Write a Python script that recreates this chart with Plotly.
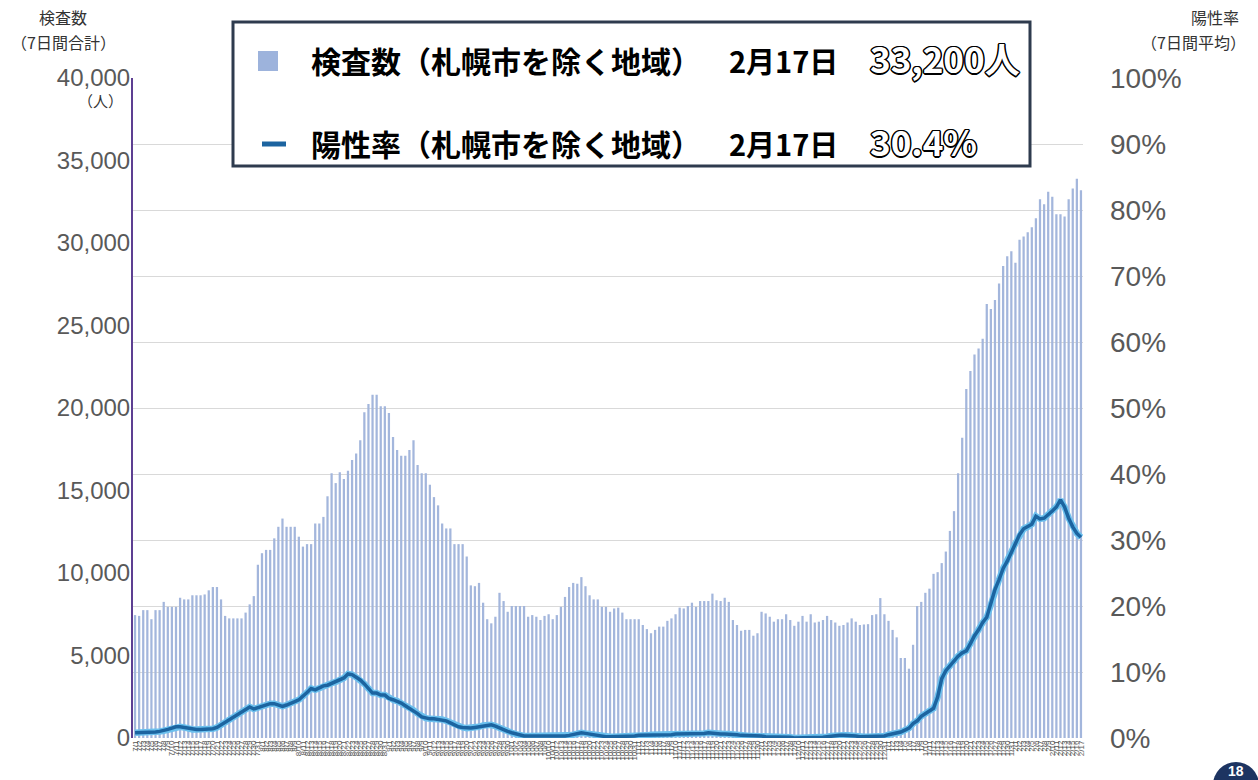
import pandas as pd
import plotly.graph_objects as go

# ---------------- data ----------------
dates = pd.date_range("2021-07-01", "2022-02-17", freq="D")
date_labels = [f"{d.month}/{d.day}" for d in dates]

tests_7day = [
    7450, 7400, 7750, 7750, 7200, 7750, 7750, 8250, 7950, 7950,
    7950, 8500, 8400, 8400, 8650, 8650, 8650, 8700, 8950, 9150,
    9150, 8400, 7400, 7250, 7250, 7250, 7250, 7600, 8100, 8600,
    10500, 11200, 11400, 11400, 12100, 12800, 13300, 12800, 12800, 12800,
    12200, 11600, 11750, 11750, 13000, 13000, 13400, 14650, 16050, 15450,
    16100, 15700, 16200, 16850, 17250, 18050, 19750, 20250, 20800, 20800,
    20100, 20100, 19700, 18250, 17450, 17100, 17100, 17450, 18050, 16550,
    16050, 16050, 15350, 14600, 14100, 13000, 12700, 12700, 11750, 11750,
    11750, 11000, 9250, 9200, 9400, 8200, 7200, 6950, 7350, 8800,
    8300, 7650, 8000, 8000, 8000, 8000, 7350, 7450, 7350, 7150,
    7400, 7500, 7200, 7450, 7950, 8550, 9150, 9400, 9350, 9750,
    9200, 8650, 8400, 8400, 7950, 7950, 7650, 7850, 7900, 7600,
    7200, 7200, 7200, 7200, 6850, 6600, 6350, 6550, 6750, 6750,
    7100, 7250, 7500, 7900, 7850, 8000, 8200, 7950, 8300, 8300,
    8300, 8750, 8350, 8300, 8500, 8250, 7150, 6850, 6500, 6550,
    6550, 6200, 6350, 7650, 7550, 7350, 7050, 7200, 7200, 7500,
    7150, 6800, 7050, 7400, 7050, 7500, 7000, 7050, 7150, 7400,
    7150, 7000, 6800, 6850, 7000, 7250, 7050, 6850, 6880, 6900,
    7450, 7500, 8480, 7500, 7100, 6550, 6100, 4850, 4850, 4200,
    5650, 8000, 8250, 8800, 9050, 9950, 10050, 10600, 11300, 12550,
    13750, 16050, 18200, 21150, 22250, 23250, 23600, 24200, 26300, 26000,
    26550, 27550, 28600, 29200, 29500, 28800, 30200, 30400, 30650, 30950,
    31500, 32650, 32350, 33100, 32800, 31750, 31750, 31600, 32650, 33300,
    33900, 33200,
]

positivity_pct = [
    0.8, 0.8, 0.8, 0.9, 0.9, 0.9, 1.0, 1.1, 1.3, 1.5,
    1.7, 1.7, 1.6, 1.4, 1.3, 1.3, 1.3, 1.3, 1.4, 1.4,
    1.6, 2.0, 2.4, 2.8, 3.2, 3.5, 3.9, 4.3, 4.7, 4.4,
    4.6, 4.9, 5.0, 5.2, 5.2, 5.0, 4.8, 5.0, 5.2, 5.5,
    5.8, 6.3, 6.9, 7.5, 7.3, 7.6, 7.9, 8.0, 8.3, 8.5,
    8.8, 9.1, 9.7, 9.6, 9.2, 8.8, 8.2, 7.5, 6.8, 6.8,
    6.5, 6.5, 6.0, 5.8, 5.6, 5.3, 4.9, 4.5, 4.2, 3.7,
    3.2, 3.0, 2.9, 2.9, 2.8, 2.8, 2.6, 2.3, 2.0, 1.7,
    1.6, 1.5, 1.5, 1.6, 1.7, 1.9, 2.0, 2.0, 1.8, 1.5,
    1.2, 1.0, 0.8, 0.6, 0.4, 0.3, 0.3, 0.3, 0.2, 0.2,
    0.2, 0.2, 0.2, 0.2, 0.3, 0.3, 0.4, 0.5, 0.7, 0.8,
    0.7, 0.6, 0.5, 0.3, 0.2, 0.2, 0.2, 0.2, 0.2, 0.2,
    0.2, 0.3, 0.3, 0.4, 0.4, 0.4, 0.5, 0.5, 0.5, 0.5,
    0.5, 0.5, 0.6, 0.6, 0.6, 0.6, 0.6, 0.6, 0.7, 0.7,
    0.8, 0.7, 0.7, 0.6, 0.6, 0.6, 0.5, 0.5, 0.4, 0.4,
    0.3, 0.3, 0.3, 0.3, 0.2, 0.2, 0.2, 0.1, 0.1, 0.1,
    0.1, 0.0, 0.0, 0.0, 0.0, 0.0, 0.0, 0.1, 0.1, 0.2,
    0.3, 0.4, 0.4, 0.4, 0.4, 0.3, 0.3, 0.2, 0.2, 0.2,
    0.2, 0.3, 0.3, 0.3, 0.5, 0.6, 0.7, 0.9, 1.2, 1.5,
    2.2, 2.6, 3.3, 3.7, 4.1, 4.5, 6.2, 9.0, 10.2, 11.0,
    11.6, 12.4, 12.9, 13.2, 14.3, 15.5, 16.4, 17.5, 18.3, 20.5,
    22.5, 24.0, 25.7, 26.8, 28.2, 29.5, 30.8, 31.7, 32.0, 32.4,
    33.6, 33.2, 33.3, 33.8, 34.4, 35.0, 36.1, 35.0, 33.3, 32.0,
    31.0, 30.4,
]

left_ticks = list(range(0, 40001, 5000))
left_tick_text = [f"{v:,}" for v in left_ticks]
right_ticks = list(range(0, 101, 10))
right_tick_text = [f"{v}%" for v in right_ticks]

legend_rows = [
    ("検査数（札幌市を除く地域）", "2月17日", "33,200人"),
    ("陽性率（札幌市を除く地域）", "2月17日", "30.4%"),
]

# ---------------- layout geometry ----------------
W, H = 1258, 780
ML, MR, MT, MB = 133, 175, 78, 42
PW, PH = W - ML - MR, H - MT - MB


def px(x):
    return (x - ML) / PW


def py(y):
    return (H - MB - y) / PH


BAR_COLOR = "#a3b6dc"
LINE_DARK = "#1c64a0"
LINE_GLOW = "#6cc0ee"
TEXT_GRAY = "#595959"
JP = "Noto Sans CJK JP"

fig = go.Figure()
fig.add_trace(go.Bar(
    x=date_labels, y=tests_7day, marker=dict(color=BAR_COLOR, line=dict(width=0)),
    yaxis="y", name="検査数", hoverinfo="x+y",
))
fig.add_trace(go.Scatter(
    x=date_labels, y=positivity_pct, yaxis="y2", mode="lines",
    line=dict(color=LINE_GLOW, width=6.5), hoverinfo="skip", name="glow",
))
fig.add_trace(go.Scatter(
    x=date_labels, y=positivity_pct, yaxis="y2", mode="lines",
    line=dict(color=LINE_DARK, width=3.5), name="陽性率",
))

outline = ("-1px -1px 0 #000, 1px -1px 0 #000, -1px 1px 0 #000, 1px 1px 0 #000, "
           "0 1.5px 0 #000, 0 -1.5px 0 #000, 1.5px 0 0 #000, -1.5px 0 0 #000")

annotations = []
shapes = []

# legend box
shapes.append(dict(type="rect", xref="paper", yref="paper",
                   x0=px(233), x1=px(1030), y0=py(166), y1=py(22),
                   line=dict(color="#2e3b4e", width=3), fillcolor="white", layer="above"))
shapes.append(dict(type="rect", xref="paper", yref="paper",
                   x0=px(258), x1=px(278), y0=py(71), y1=py(51),
                   line=dict(width=0), fillcolor="#9db3dc", layer="above"))
shapes.append(dict(type="line", xref="paper", yref="paper",
                   x0=px(262), x1=px(286), y0=py(144), y1=py(144),
                   line=dict(color=LINE_DARK, width=5), layer="above"))

row_y = [60, 143]
for (label, date_txt, value_txt), yy in zip(legend_rows, row_y):
    annotations.append(dict(
        text=f"<b>{label}</b>", xref="paper", yref="paper", x=px(309), y=py(yy),
        xanchor="left", yanchor="middle", showarrow=False,
        font=dict(family=JP, size=30, color="#000", weight=900)))
    annotations.append(dict(
        text=f"<b>{date_txt}</b>", xref="paper", yref="paper", x=px(727), y=py(yy),
        xanchor="left", yanchor="middle", showarrow=False,
        font=dict(family=JP, size=29, color="#000", weight=900)))
    annotations.append(dict(
        text=f"<b>{value_txt}</b>", xref="paper", yref="paper", x=px(868), y=py(yy - 3),
        xanchor="left", yanchor="middle", showarrow=False,
        font=dict(family=JP, size=35, color="#ffffff", weight=900, shadow=outline)))

# axis titles (each line separately)
for txt, xx, yy in [("検査数", 63, 17), ("（7日間合計）", 63, 42),
                    ("陽性率", 1215, 17), ("（7日間平均）", 1193, 42)]:
    annotations.append(dict(text=txt, xref="paper", yref="paper",
                            x=px(xx), y=py(yy), xanchor="center", yanchor="middle",
                            showarrow=False,
                            font=dict(family=JP, size=16, color="#333")))
annotations.append(dict(text="（人）", xref="paper", yref="paper",
                        x=px(125), y=py(100), xanchor="right", yanchor="middle", showarrow=False,
                        font=dict(family=JP, size=15, color="#333")))

# page number badge (partly beyond the page edge, as in the original)
shapes.append(dict(type="circle", xref="paper", yref="paper",
                   x0=px(1213), x1=px(1259), y0=py(808), y1=py(762),
                   line=dict(width=0), fillcolor="#1d3461", layer="above"))
annotations.append(dict(text="<b>18</b>", xref="paper", yref="paper",
                        x=px(1236), y=py(771), xanchor="center", yanchor="middle",
                        showarrow=False,
                        font=dict(family="Liberation Sans", size=14, color="white")))

fig.update_layout(
    width=W, height=H,
    margin=dict(l=ML, r=MR, t=MT, b=MB, pad=0),
    paper_bgcolor="white", plot_bgcolor="white",
    showlegend=False,
    bargap=0.45,
    font=dict(family="Liberation Sans", color=TEXT_GRAY),
    xaxis=dict(
        type="category", range=[-0.5, len(date_labels) - 0.5],
        tickmode="array", tickvals=date_labels, ticktext=date_labels,
        tickangle=-90, tickfont=dict(size=8, color="#555"),
        showgrid=False, showline=False, ticks="", zeroline=False,
    ),
    yaxis=dict(
        range=[0, 40000], tickvals=left_ticks, ticktext=left_tick_text,
        tickfont=dict(size=24, color=TEXT_GRAY, family="Liberation Sans"),
        showgrid=False, zeroline=False, showline=True, linecolor="#5d3f92", linewidth=2,
        ticks="", ticklabelstandoff=-4,
    ),
    yaxis2=dict(
        range=[0, 100], tickvals=right_ticks, ticktext=right_tick_text,
        overlaying="y", side="right",
        tickfont=dict(size=28, color=TEXT_GRAY, family="Liberation Sans"),
        showgrid=True, gridcolor="#d9d9d9", gridwidth=1, zeroline=False, showline=False,
        ticks="", ticklabelstandoff=26,
    ),
    shapes=shapes,
    annotations=annotations,
)

fig.write_html("out.html")
